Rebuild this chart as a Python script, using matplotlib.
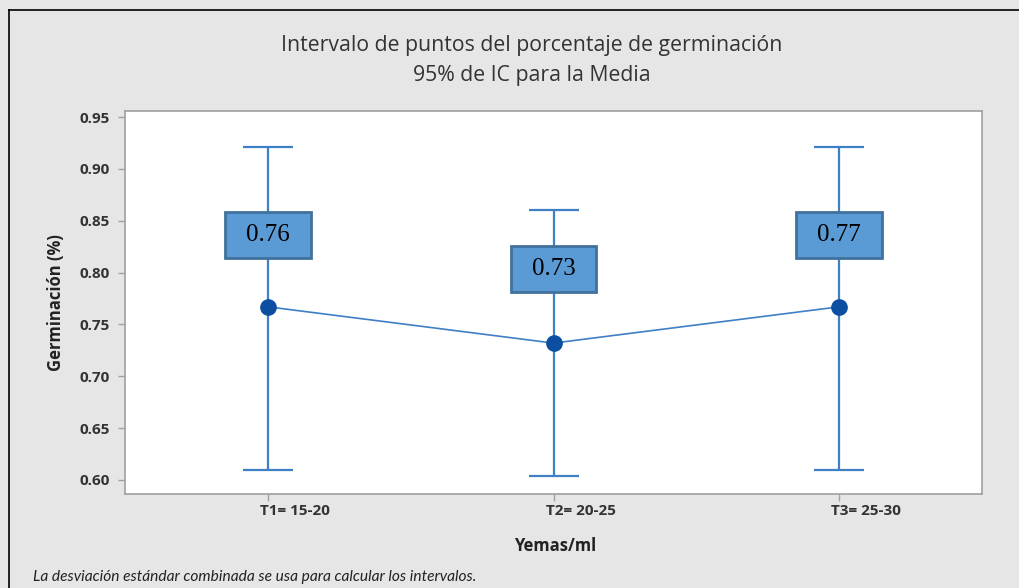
#!/usr/bin/python3
"""
Intervalo de puntos del porcentaje de germinacion (95% IC para la media).
"""

import matplotlib
matplotlib.use('Agg')
import matplotlib.pyplot as plt
import matplotlib.transforms as mtransforms
from matplotlib.patches import Rectangle
from matplotlib.lines import Line2D


groups = ['T1= 15-20', 'T2= 20-25', 'T3= 25-30']
means = [0.767, 0.732, 0.767]
ci_low = [0.610, 0.604, 0.610]
ci_high = [0.921, 0.860, 0.921]
box_labels = ['0.76', '0.73', '0.77']
box_y = [0.836, 0.803, 0.836]

line_blue = '#3f7fc6'
dot_blue = '#0b4ea2'
box_fill = '#5b9bd5'
box_edge = '#41719c'
bg = '#e6e6e6'


def main():
    fig = plt.figure(figsize=(10.19, 5.88), dpi=100)
    fig.patch.set_facecolor(bg)

    # outer frame, top and left only
    fig.add_artist(Line2D([9/1019, 9/1019], [0, 1 - 10/588], color='k', lw=1.2))
    fig.add_artist(Line2D([9/1019, 1], [1 - 10/588, 1 - 10/588], color='k', lw=1.2))

    ax = fig.add_axes([125/1019, 1 - 494/588, 857/1019, 383/588])
    ax.set_facecolor('white')
    x = list(range(len(groups)))

    yerr = [[m - lo for m, lo in zip(means, ci_low)],
            [hi - m for m, hi in zip(means, ci_high)]]
    ax.errorbar(x, means, yerr=yerr, fmt='none', ecolor=line_blue,
                elinewidth=1.6, capsize=18, capthick=1.6, zorder=2)
    ax.plot(x, means, color=line_blue, lw=1.2, zorder=3)
    ax.plot(x, means, 'o', color=dot_blue, ms=11, zorder=4)

    w, h = 0.30, 0.0444
    for xi, yi, lab in zip(x, box_y, box_labels):
        ax.add_patch(Rectangle((xi - w/2, yi - h/2), w, h, facecolor=box_fill,
                               edgecolor=box_edge, lw=2, zorder=5))
        ax.text(xi, yi, lab, ha='center', va='center', fontsize=18,
                family='Liberation Serif', color='black', zorder=6)

    ax.set_xlim(-0.5, 2.5)
    ax.set_ylim(0.5865, 0.9558)
    ax.set_yticks([0.60, 0.65, 0.70, 0.75, 0.80, 0.85, 0.90, 0.95])
    ax.set_yticklabels([f'{v:.2f}' for v in ax.get_yticks()])
    ax.set_xticks(x)
    ax.set_xticklabels([])
    for lbl in ax.get_yticklabels():
        lbl.set_fontweight('bold')
        lbl.set_fontsize(11)
        lbl.set_family('Open Sans')
        lbl.set_color('#333333')
    # category labels sit a bit to the right of their ticks
    tr = ax.get_xaxis_transform() + mtransforms.ScaledTranslation(
        0.27, -0.10, fig.dpi_scale_trans)
    for xi, g in zip(x, groups):
        ax.text(xi, 0, g, transform=tr, ha='center', va='top', fontsize=11,
                fontweight='bold', family='Open Sans', color='#333333',
                clip_on=False)
    ax.tick_params(axis='both', color='#a0a0a0', length=5, width=1)
    ax.tick_params(axis='y', pad=6)
    for s in ax.spines.values():
        s.set_color('#a0a0a0')
        s.set_linewidth(1.2)

    ax.set_ylabel('Germinación (%)', fontsize=12, fontweight='bold',
                  family='Open Sans', labelpad=10, color='#222222')
    fig.text(555/1019, 1 - 546/588, 'Yemas/ml', ha='center', va='center',
             fontsize=12, fontweight='bold', family='Open Sans', color='#222222')

    fig.text(532/1019, 1 - 45/588, 'Intervalo de puntos del porcentaje de germinación',
             ha='center', va='center', fontsize=15.3, family='Open Sans', color='#333333')
    fig.text(532/1019, 1 - 75/588, '95% de IC para la Media',
             ha='center', va='center', fontsize=15.3, family='Open Sans', color='#333333')

    fig.text(33/1019, 1 - 577/588,
             'La desviación estándar combinada se usa para calcular los intervalos.',
             ha='left', va='center', fontsize=11.2, style='italic', family='Lato',
             color='#222222')

    fig.savefig('out.png', dpi=100, facecolor=fig.get_facecolor())


if __name__ == '__main__':
    main()
